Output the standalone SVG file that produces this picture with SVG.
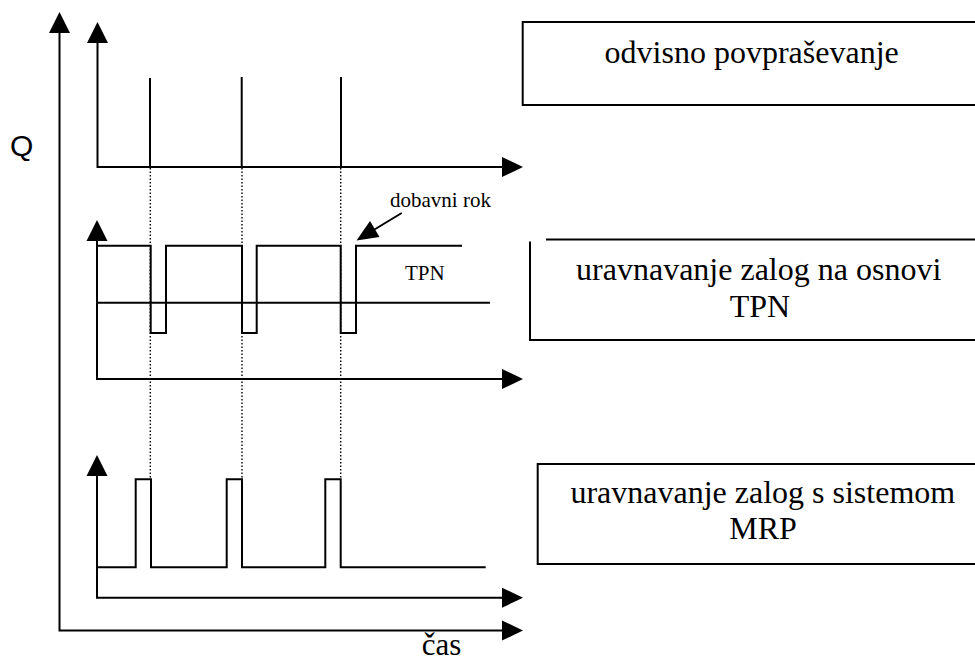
<svg xmlns="http://www.w3.org/2000/svg" width="975" height="661" viewBox="0 0 975 661">
  <style>
    .ln { fill: none; stroke: #000; stroke-width: 2; }
    .dot { fill: none; stroke: #000; stroke-width: 1.4; stroke-dasharray: 1.5 2; }
    .head { fill: #000; stroke: none; }
    .box { fill: #fff; stroke: #000; stroke-width: 2; }
    text { fill: #000; }
  </style>
  <defs>
    <!-- filled triangle heads, drawn pointing at the origin -->
    <polygon id="headR" class="head" points="0,0 -21,-10 -21,10"/>
    <polygon id="headU" class="head" points="0,0 -10.5,21 10.5,21"/>
  </defs>

  <g id="connectors">
    <!-- outer axes -->
    <g id="outer-axes">
      <polyline class="ln" points="59.5,30 59.5,630.5 504,630.5"/>
      <use href="#headU" x="59.5" y="12"/>
      <use href="#headR" x="523" y="630.5"/>
    </g>

    <!-- top chart: dependent demand spikes -->
    <g id="chart-top">
      <polyline class="ln" points="97.5,40 97.5,167 504,167"/>
      <use href="#headU" x="97.5" y="22"/>
      <use href="#headR" x="523" y="167"/>
      <line class="ln" x1="150" y1="78" x2="150" y2="167"/>
      <line class="ln" x1="241.7" y1="77" x2="241.7" y2="167"/>
      <line class="ln" x1="341" y1="77" x2="341" y2="167"/>
    </g>

    <!-- middle chart: stock control by TPN -->
    <g id="chart-mid">
      <polyline class="ln" points="97,238 97,379 504,379"/>
      <use href="#headU" x="97" y="220"/>
      <use href="#headR" x="523" y="379"/>
      <line class="ln" x1="97" y1="302.7" x2="490" y2="302.7"/>
      <polyline class="ln" points="97,245.7 150.7,245.7 150.7,333 166,333 166,245.7 242,245.7 242,333 256.7,333 256.7,245.7 340.7,245.7 340.7,333 356,333 356,245.7 462,245.7"/>
      <!-- lead time pointer -->
      <line class="ln" x1="401.7" y1="213" x2="372" y2="231"/>
      <polygon class="head" points="356.5,240.5 370,221 379.5,237"/>
    </g>

    <!-- bottom chart: stock control with MRP -->
    <g id="chart-bot">
      <polyline class="ln" points="97,472 97,597.7 504,597.7"/>
      <use href="#headU" x="97" y="455"/>
      <use href="#headR" x="523" y="597.7"/>
      <polyline class="ln" points="97,567.3 135.7,567.3 135.7,479.3 151,479.3 151,567.3 226.7,567.3 226.7,479.3 242,479.3 242,567.3 325.3,567.3 325.3,479.3 340.7,479.3 340.7,567.3 485.7,567.3"/>
    </g>

    <!-- dotted guides across the three charts -->
    <g id="guides">
      <line class="dot" x1="150.3" y1="168" x2="150.3" y2="479"/>
      <line class="dot" x1="242" y1="168" x2="242" y2="479"/>
      <line class="dot" x1="340.7" y1="168" x2="340.7" y2="479"/>
    </g>
  </g>

  <!-- axis and chart labels -->
  <g id="labels">
    <text x="10" y="156" font-family="Liberation Sans, Arial, sans-serif" font-size="30">Q</text>
    <g font-family="Liberation Serif, Times New Roman, DejaVu Serif, serif">
      <text x="390" y="206.7" font-size="21">dobavni rok</text>
      <text x="405" y="280" font-size="21">TPN</text>
      <text x="421.7" y="655" font-size="31">čas</text>
    </g>
  </g>

  <g id="box-demand">
    <rect class="box" x="522.7" y="22" width="470" height="83"/>
    <text x="751.7" y="63" text-anchor="middle" font-family="Liberation Serif, Times New Roman, DejaVu Serif, serif" font-size="32">odvisno povpraševanje</text>
  </g>

  <g id="box-tpn">
    <rect x="530" y="240" width="460" height="100" fill="#fff"/>
    <path class="ln" d="M546,239.5 H990 M530,241.5 V340 H990"/>
    <g font-family="Liberation Serif, Times New Roman, DejaVu Serif, serif" font-size="32" text-anchor="middle">
      <text x="758.7" y="280">uravnavanje zalog na osnovi</text>
      <text x="760" y="316.7">TPN</text>
    </g>
  </g>

  <g id="box-mrp">
    <rect class="box" x="537.7" y="464" width="460" height="100"/>
    <g font-family="Liberation Serif, Times New Roman, DejaVu Serif, serif" font-size="32" text-anchor="middle">
      <text x="762.8" y="502.7">uravnavanje zalog s sistemom</text>
      <text x="763" y="539.3">MRP</text>
    </g>
  </g>
</svg>
